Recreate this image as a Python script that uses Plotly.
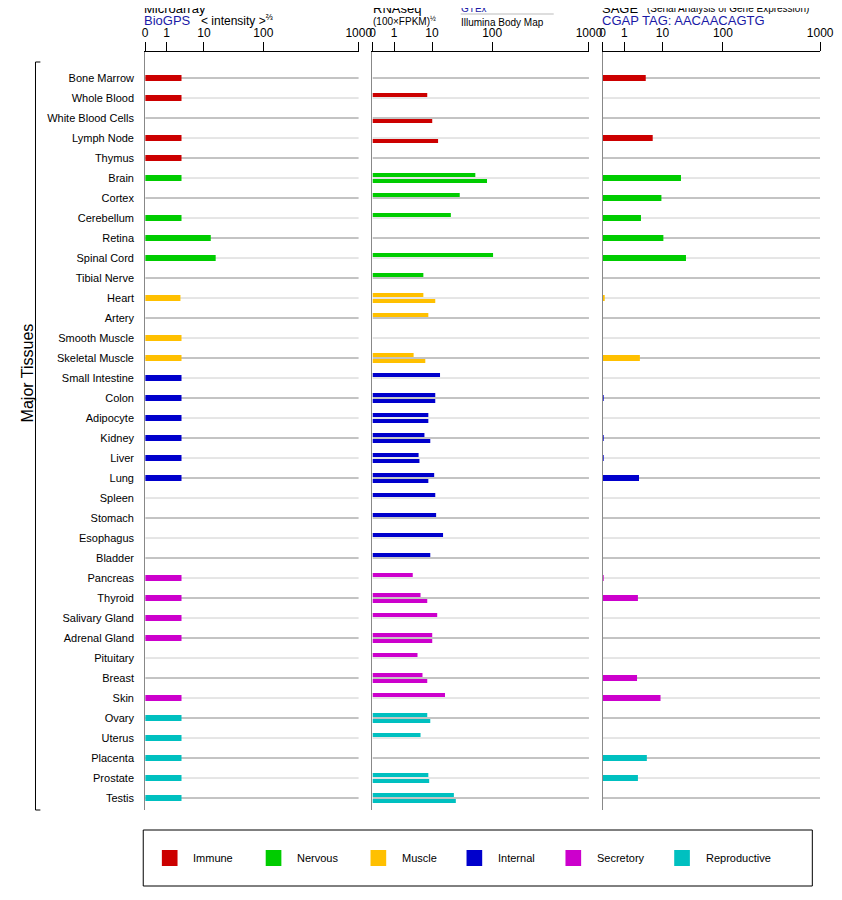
import plotly.graph_objects as go

# the page adds an 8px body margin, so the figure is 834x892 to fill 842x900
W, H = 834, 892
OFF = 8

tissues = ["Bone Marrow", "Whole Blood", "White Blood Cells", "Lymph Node", "Thymus",
           "Brain", "Cortex", "Cerebellum", "Retina", "Spinal Cord", "Tibial Nerve",
           "Heart", "Artery", "Smooth Muscle", "Skeletal Muscle",
           "Small Intestine", "Colon", "Adipocyte", "Kidney", "Liver", "Lung", "Spleen",
           "Stomach", "Esophagus", "Bladder",
           "Pancreas", "Thyroid", "Salivary Gland", "Adrenal Gland", "Pituitary", "Breast", "Skin",
           "Ovary", "Uterus", "Placenta", "Prostate", "Testis"]
groups = ["Immune"] * 5 + ["Nervous"] * 6 + ["Muscle"] * 4 + ["Internal"] * 10 + \
         ["Secretory"] * 7 + ["Reproductive"] * 5
group_names = ["Immune", "Nervous", "Muscle", "Internal", "Secretory", "Reproductive"]
group_colors = ["#CC0000", "#00CC00", "#FFC000", "#0000CC", "#CC00CC", "#00C0C0"]

# display units: 0..1000 along each axis (ticks 0,1,10,100,1000 sit at 0,100,275,553,1000)
tick_pos = [0, 100, 275, 553, 1000]
tick_text = ["0", "1", "10", "100", "1000"]

microarray = [170, 170, 0, 170, 170, 170, 0, 170, 307, 330, 0, 165, 0, 170, 170,
              170, 170, 170, 170, 170, 170, 0, 0, 0, 0,
              170, 170, 170, 170, 0, 0, 170, 170, 170, 170, 170, 170]
gtex = [0, 253, 0, 0, 0, 475, 403, 362, 0, 557, 235, 235, 258, 0, 190,
        312, 290, 258, 240, 213, 285, 290, 294, 326, 267,
        186, 222, 299, 276, 208, 231, 335, 253, 222, 0, 258, 376]
illumina = [0, 0, 276, 303, 0, 529, 0, 0, 0, 0, 0, 290, 0, 0, 244,
            0, 290, 258, 267, 217, 258, 0, 0, 0, 0,
            0, 253, 0, 276, 0, 253, 0, 267, 0, 0, 262, 385]
sage = [198, 0, 0, 230, 0, 360, 270, 176, 279, 383, 0, 5, 0, 0, 171,
        0, 4, 0, 4, 4, 167, 0, 0, 0, 0,
        4, 162, 0, 0, 0, 158, 266, 0, 0, 203, 162, 0]

color_of = dict(zip(group_names, group_colors))
colors = [color_of[g] for g in groups]
rows = list(range(len(tissues)))


def px(x, y):
    return (x - OFF) / W, 1 - (y - OFF) / H


fig = go.Figure()

panels = [(145, 363), (377, 598), (612, 834)]
top_px, bot_px = 52, 810
ytop = (top_px - 78) / 20
ybot = (bot_px - 78) / 20

for k, (x0, x1) in enumerate(panels):
    sfx = "" if k == 0 else str(k + 1)
    xa, ya = "x" + sfx, "y" + sfx
    # row lines, alternating dark / light, under the bars
    for i in rows:
        fig.add_shape(type="line", xref=xa, yref=ya, x0=0, x1=1000, y0=i, y1=i, layer="below",
                      line=dict(color="#888888" if i % 2 == 0 else "#CCCCCC", width=1))
    fig.update_layout(**{
        "xaxis" + sfx: dict(domain=[px(x0, 0)[0], px(x1, 0)[0]], range=[0, 1000], side="top",
                            anchor=ya, tickvals=tick_pos, ticktext=tick_text,
                            ticks="outside", ticklen=9, tickcolor="black",
                            showline=True, linecolor="black", showgrid=False,
                            zeroline=False, tickfont=dict(size=12, color="black")),
        "yaxis" + sfx: dict(domain=[px(0, bot_px)[1], px(0, top_px)[1]], range=[ybot, ytop],
                            anchor=xa, showline=True, linecolor="#888888", showgrid=False,
                            zeroline=False,
                            tickvals=rows if k == 0 else [],
                            ticktext=tissues if k == 0 else [],
                            ticks="", ticklabelstandoff=8,
                            tickfont=dict(size=11, color="black")),
    })

fig.add_trace(go.Bar(x=microarray, y=rows, orientation="h", width=0.3,
                     marker=dict(color=colors, line=dict(width=0)),
                     xaxis="x", yaxis="y", showlegend=False))
fig.add_trace(go.Bar(x=gtex, y=[i - 0.15 for i in rows], orientation="h", width=0.2,
                     marker=dict(color=colors, line=dict(width=0)),
                     xaxis="x2", yaxis="y2", showlegend=False))
fig.add_trace(go.Bar(x=illumina, y=[i + 0.15 for i in rows], orientation="h", width=0.2,
                     marker=dict(color=colors, line=dict(width=0)),
                     xaxis="x2", yaxis="y2", showlegend=False))
fig.add_trace(go.Bar(x=sage, y=rows, orientation="h", width=0.3,
                     marker=dict(color=colors, line=dict(width=0)),
                     xaxis="x3", yaxis="y3", showlegend=False))


def note(x, y, text, size=12, color="black", anchor="left"):
    ax, ay = px(x, y)
    fig.add_annotation(x=ax, y=ay, xref="paper", yref="paper", text=text, showarrow=False,
                       xanchor=anchor, yanchor="middle", font=dict(size=size, color=color))


note(142, 8, "Microarray", 13)
note(142, 21, "BioGPS", 13, "#1a1aa6")
note(200, 20, "&lt; intensity &gt;<sup>⅔</sup>", 12)
note(375, 8, "RNAseq", 13)
note(375, 21, "(100×FPKM)<sup>½</sup>", 10)
note(465, 8, "GTEx", 10, "#1a1aa6")
note(465, 22, "Illumina Body Map", 10)
note(609, 8, "SAGE", 13)
note(655, 8, "(Serial Analysis of Gene Expression)", 10)
note(609, 21, "CGAP TAG: AACAACAGTG", 13, "#1a1aa6")

sx0, sy0 = px(467, 14)
sx1, _ = px(562, 14)
fig.add_shape(type="line", xref="paper", yref="paper", x0=sx0, x1=sx1, y0=sy0, y1=sy0,
              line=dict(color="#BBBBBB", width=1))

# bracket + side title
bx, _ = px(33, 0)
bx2, _ = px(38, 0)
_, by0 = px(0, 62)
_, by1 = px(0, 810)
for seg in [(bx, by0, bx, by1), (bx, by0, bx2, by0), (bx, by1, bx2, by1)]:
    fig.add_shape(type="line", xref="paper", yref="paper", x0=seg[0], y0=seg[1],
                  x1=seg[2], y1=seg[3], line=dict(color="black", width=1))
tx, ty = px(14, 373)
fig.add_annotation(x=tx, y=ty, xref="paper", yref="paper", text="Major Tissues",
                   textangle=-90, showarrow=False, font=dict(size=16, color="black"))

# legend box
lx0, ly0 = px(143, 830)
lx1, ly1 = px(826, 886)
fig.add_shape(type="rect", xref="paper", yref="paper", x0=lx0, y0=ly0, x1=lx1, y1=ly1,
              line=dict(color="black", width=1))
legend_x = [162, 268, 375, 473, 574, 685]
for name, col, lx in zip(group_names, group_colors, legend_x):
    a0, b0 = px(lx, 850)
    a1, b1 = px(lx + 16, 866)
    fig.add_shape(type="rect", xref="paper", yref="paper", x0=a0, y0=b0, x1=a1, y1=b1,
                  fillcolor=col, line=dict(width=0))
    note(lx + 30, 858, name, 11)

fig.update_layout(width=W, height=H, margin=dict(l=0, r=0, t=0, b=0),
                  plot_bgcolor="white", paper_bgcolor="white", barmode="overlay",
                  font=dict(family="Liberation Sans, Arial, sans-serif", color="black"))
fig.write_html("out.html")
